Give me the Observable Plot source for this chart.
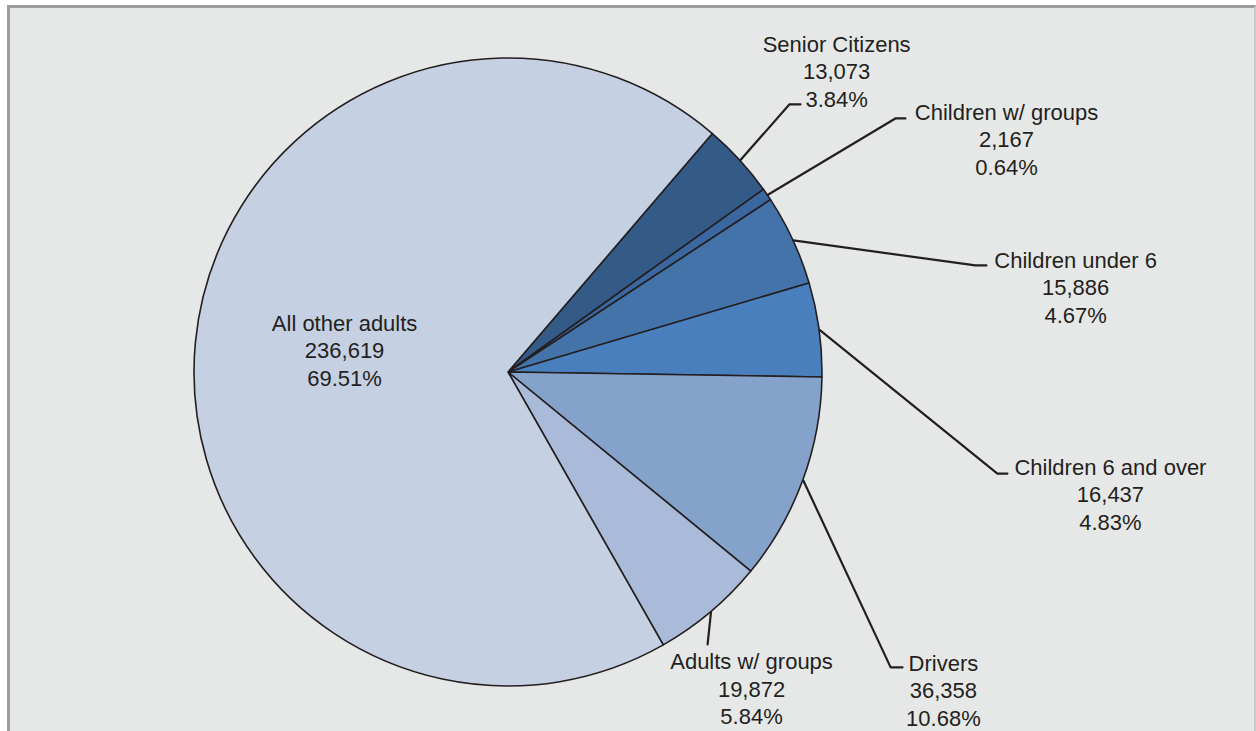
<!DOCTYPE html>
<html>
<head>
<meta charset="utf-8">
<script src="https://cdn.jsdelivr.net/npm/d3@7"></script>
<script src="https://cdn.jsdelivr.net/npm/@observablehq/plot@0.6"></script>
<style>
  body { margin: 0; background: #ffffff; }
  #frame { position: absolute; left: 7px; top: 5px; width: 1244px; height: 740px;
           background: #e6e8e7; border-top: 3px solid #9c9d9f; border-left: 3px solid #9c9d9f;
           border-right: 2px solid #c9cacb; }
  #chart { position: absolute; left: 0; top: 0; }
</style>
</head>
<body>
<div id="frame"></div>
<div id="chart"></div>
<script>
// ---- data ----
const categories = ["Senior Citizens", "Children w/ groups", "Children under 6",
                    "Children 6 and over", "Drivers", "Adults w/ groups", "All other adults"];
const counts = [13073, 2167, 15886, 16437, 36358, 19872, 236619];
const percents = ["3.84%", "0.64%", "4.67%", "4.83%", "10.68%", "5.84%", "69.51%"];

// ---- styling / layout (kept apart from data) ----
const colors = ["#345a88", "#3b67a0", "#4473aa", "#4a7fbe", "#85a2cb", "#aabad9", "#c5d0e2"];
// label placement in pie-radius units, measured from the pie centre
const labelX = [1.045, 1.586, 1.806, 1.917, 1.385, 0.774, -0.522];
const labelY = [0.962, 0.745, 0.274, -0.385, -1.010, -1.004, 0.073];
const elbowX = [0.895, 1.232, 1.487, 1.557, 1.217, 0.634, null];
const elbowY = [0.854, 0.809, 0.341, -0.322, -0.939, -0.866, null];
const endX   = [0.930, 1.264, 1.522, 1.589, 1.255, 0.634, null];

const W = 1256, H = 731, CX = 508, CY = 372, R = 314;
const startAngle = 40.6 * Math.PI / 180;
const ink = "#231f20";
const font = "'Liberation Sans', Arial, sans-serif";

const rows = categories.map((c, i) => ({category: c, count: counts[i], pct: percents[i], color: colors[i]}));
const arcs = d3.pie().sort(null).value(d => d.count)
  .startAngle(startAngle).endAngle(startAngle + 2 * Math.PI)(rows);

// leader lines: from slice mid-angle on the rim to elbow to end
const leaders = [];
arcs.forEach((a, i) => {
  if (elbowX[i] == null) return;
  const m = (a.startAngle + a.endAngle) / 2;
  leaders.push({category: categories[i], x: Math.sin(m), y: Math.cos(m)});
  leaders.push({category: categories[i], x: elbowX[i], y: elbowY[i]});
  if (endX[i] !== elbowX[i]) leaders.push({category: categories[i], x: endX[i], y: elbowY[i]});
});

const labels = rows.map((d, i) => ({
  x: labelX[i], y: labelY[i],
  text: `${d.category}\n${d3.format(",")(d.count)}\n${d.pct}`
}));

function pieSlices(index, scales) {
  const x0 = scales.x(0), y0 = scales.y(0), r = scales.x(1) - scales.x(0);
  const arc = d3.arc().innerRadius(0).outerRadius(r);
  const g = d3.create("svg:g").attr("transform", `translate(${x0},${y0})`);
  g.selectAll("path").data(arcs).join("path")
    .attr("d", arc)
    .attr("fill", d => d.data.color)
    .attr("stroke", ink)
    .attr("stroke-width", 1.6)
    .attr("stroke-linejoin", "round");
  return g.node();
}

const chart = Plot.plot({
  width: W, height: H,
  margin: 0,
  style: {background: "transparent", fontFamily: font},
  x: {domain: [-CX / R, (W - CX) / R], range: [0, W], axis: null},
  y: {domain: [-(H - CY) / R, CY / R], range: [H, 0], axis: null},
  marks: [
    pieSlices,
    Plot.line(leaders, {x: "x", y: "y", z: "category", stroke: ink, strokeWidth: 2.2,
                        strokeLinejoin: "round", curve: "linear"}),
    Plot.text(labels, {x: "x", y: "y", text: "text", fontSize: 22, lineHeight: 1.25,
                       fill: ink, fontFamily: font, textAnchor: "middle"})
  ]
});
document.getElementById("chart").appendChild(chart);
</script>
</body>
</html>
